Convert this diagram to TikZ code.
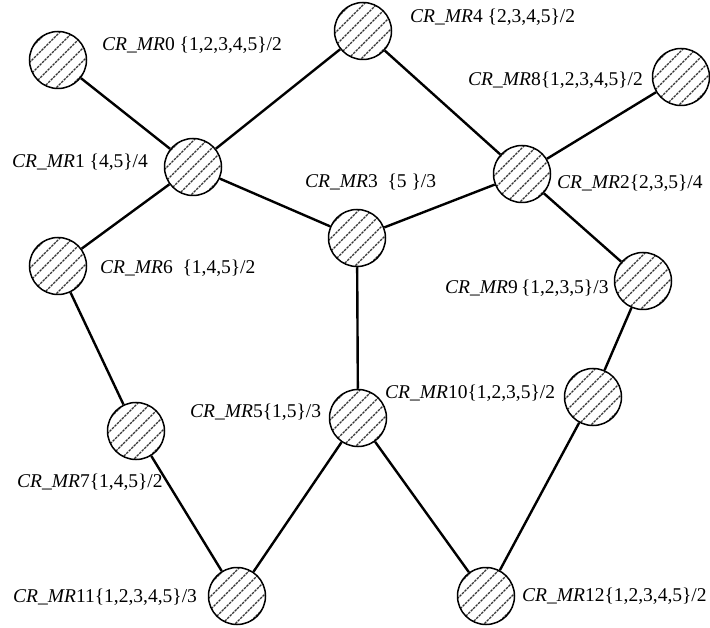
\documentclass[tikz,border=0pt]{standalone}
\usepackage{fontspec}
\setmainfont{Liberation Serif}
\begin{document}
\begin{tikzpicture}[x=1pt,y=-1pt,
  hatchline/.style={black!80, line width=1.4pt, dash pattern=on 2.5pt off 1pt},
  mr/.style={circle, draw=black, line width=1.5pt, fill=white, minimum size=57pt, inner sep=0pt,
    path picture={\foreach \k in {-4,...,4}{\draw[hatchline] ([shift={(\k*13pt-40pt,-40pt)}]path picture bounding box.center) -- ++(80pt,80pt);}}},
  lbl/.style={anchor=west, inner sep=0pt, font=\fontsize{19.5}{22}\selectfont},
  link/.style={line width=2.4pt}]
\useasboundingbox (0,0) rectangle (710,628);
% nodes
\node[mr] (mr0) at (58,60) {};
\node[mr] (mr4) at (363,31) {};
\node[mr] (mr8) at (681,77) {};
\node[mr] (mr1) at (193,167) {};
\node[mr] (mr2) at (522,174) {};
\node[mr] (mr3) at (357,238) {};
\node[mr] (mr6) at (58,266) {};
\node[mr] (mr9) at (643,281) {};
\node[mr] (mr5) at (358,418) {};
\node[mr] (mr10) at (593,397) {};
\node[mr] (mr7) at (136,431) {};
\node[mr] (mr11) at (237,596) {};
\node[mr] (mr12) at (486,596) {};
% links
\draw[link] (mr0) -- (mr1);
\draw[link] (mr4) -- (mr1);
\draw[link] (mr1) -- (mr6);
\draw[link] (mr1) -- (mr3);
\draw[link] (mr4) -- (mr2);
\draw[link] (mr8) -- (mr2);
\draw[link] (mr3) -- (mr2);
\draw[link] (mr2) -- (mr9);
\draw[link] (mr3) -- (mr5);
\draw[link] (mr6) -- (mr7);
\draw[link] (mr7) -- (mr11);
\draw[link] (mr11) -- (mr5);
\draw[link] (mr5) -- (mr12);
\draw[link] (mr9) -- (mr10);
\draw[link] (mr10) -- (mr12);
% labels
\node[lbl] (l0) at (102,45) {\textit{CR\_MR}0 \{1,2,3,4,5\}/2};
\node[lbl] (l4) at (410,17) {\textit{CR\_MR}4 \{2,3,4,5\}/2};
\node[lbl] (l8) at (468,80) {\textit{CR\_MR}8\{1,2,3,4,5\}/2};
\node[lbl] (l1) at (12,162) {\textit{CR\_MR}1 \{4,5\}/4};
\node[lbl] (l3) at (305,182) {\textit{CR\_MR}3\ \ \{5 \}/3};
\node[lbl] (l2) at (557,183) {\textit{CR\_MR}2\{2,3,5\}/4};
\node[lbl] (l6) at (100,268) {\textit{CR\_MR}6\ \ \{1,4,5\}/2};
\node[lbl] (l9) at (445,288) {\textit{CR\_MR}9\,\{1,2,3,5\}/3};
\node[lbl] (l5) at (190,412) {\textit{CR\_MR}5\{1,5\}/3};
\node[lbl] (l10) at (385,393) {\textit{CR\_MR}10\{1,2,3,5\}/2};
\node[lbl] (l7) at (17,482) {\textit{CR\_MR}7\{1,4,5\}/2};
\node[lbl] (l11) at (13,597) {\textit{CR\_MR}11\{1,2,3,4,5\}/3};
\node[lbl] (l12) at (522,596) {\textit{CR\_MR}12\{1,2,3,4,5\}/2};
\end{tikzpicture}
\end{document}
